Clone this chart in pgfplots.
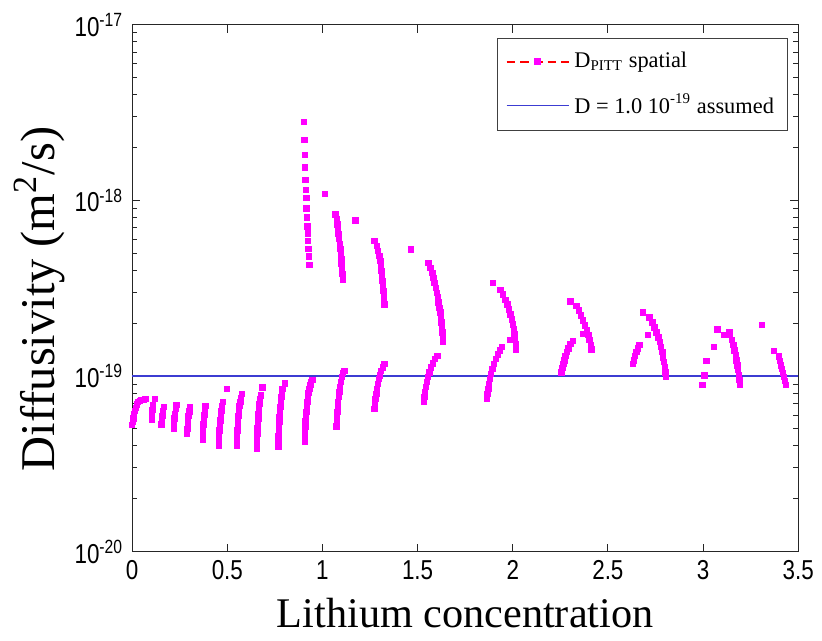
\documentclass[border=0pt]{standalone}
\usepackage{fontspec}
\setmainfont{Liberation Serif}
\newfontfamily\ticksf[FakeStretch=0.82]{Liberation Sans}
\usepackage{pgfplots}
\pgfplotsset{compat=1.18}
\definecolor{lineblue}{RGB}{60,60,210}
\definecolor{mag}{RGB}{255,0,255}
\begin{document}
\begin{tikzpicture}
\begin{axis}[
  at={(0,0)}, anchor=south west,
  scale only axis, width=268pt, height=212pt,
  xmin=0, xmax=3.5, ymode=log, ymin=1e-20, ymax=1e-17,
  xtick={0,0.5,1,1.5,2,2.5,3,3.5},
  xticklabels={0,0.5,1,1.5,2,2.5,3,3.5},
  ytick={1e-20,1e-19,1e-18,1e-17},
  yticklabels={10\textsuperscript{-20},10\textsuperscript{-19},10\textsuperscript{-18},10\textsuperscript{-17}},
  minor ytick={2e-20,3e-20,4e-20,5e-20,6e-20,7e-20,8e-20,9e-20,2e-19,3e-19,4e-19,5e-19,6e-19,7e-19,8e-19,9e-19,2e-18,3e-18,4e-18,5e-18,6e-18,7e-18,8e-18,9e-18},
  tick label style={font=\ticksf\fontsize{11}{12}\selectfont},
  axis line style={line width=0.45pt, black!85},
  tick style={line width=0.4pt, black!85},
  major tick length=3.2pt, minor tick length=2pt,
  tick align=inside,
  xlabel={Lithium concentration},
  ylabel={Diffusivity (m\textsuperscript{2}/s)},
  xlabel style={font=\fontsize{17}{20}\selectfont, at={(axis description cs:0.5,-0.117)}, anchor=center},
  ylabel style={font=\fontsize{19.5}{21}\selectfont, at={(axis description cs:-0.139,0.48)}, anchor=center},
  legend style={at={(0.985,0.975)}, anchor=north east, draw=black!75, line width=0.45pt,
    font=\fontsize{9}{10}\selectfont, inner xsep=3.5pt, inner ysep=3.5pt, row sep=5pt},
  legend cell align=left,
]
\addplot[only marks, mark=square*, mark size=1.1pt, color=mag, mark options={draw=none, fill=mag},
  legend image code/.code={\draw[red, dash pattern=on 3.5pt off 2pt, line width=0.6pt] (0pt,0pt) -- (25pt,0pt);
    \fill[mag] (11.3pt,-1.2pt) rectangle (13.7pt,1.2pt);}]
table {
x y
0 5.25e-20
0.003 5.5e-20
0.006 5.75e-20
0.010 6.05e-20
0.015 6.35e-20
0.020 6.6e-20
0.025 6.9e-20
0.030 7.1e-20
0.040 7.2e-20
0.050 7.3e-20
0.060 7.3e-20
0.070 7.4e-20
0.103 5.67e-20
0.105 6.02e-20
0.107 6.4e-20
0.110 6.8e-20
0.120 7.4e-20
0.155 5.29e-20
0.157 5.61e-20
0.160 5.94e-20
0.163 6.3e-20
0.167 6.68e-20
0.219 5.02e-20
0.221 5.36e-20
0.223 5.72e-20
0.226 6.10e-20
0.230 6.51e-20
0.234 6.86e-20
0.289 4.70e-20
0.290 4.99e-20
0.292 5.29e-20
0.294 5.61e-20
0.297 5.94e-20
0.300 6.30e-20
0.303 6.68e-20
0.371 4.35e-20
0.372 4.65e-20
0.373 4.95e-20
0.375 5.29e-20
0.377 5.64e-20
0.379 6.02e-20
0.382 6.38e-20
0.385 6.77e-20
0.455 4.02e-20
0.456 4.29e-20
0.457 4.58e-20
0.459 4.89e-20
0.461 5.22e-20
0.463 5.57e-20
0.466 5.94e-20
0.469 6.34e-20
0.473 6.77e-20
0.477 7.13e-20
0.498 8.45e-20
0.550 4.02e-20
0.551 4.29e-20
0.552 4.58e-20
0.553 4.89e-20
0.555 5.22e-20
0.557 5.57e-20
0.559 5.94e-20
0.562 6.34e-20
0.565 6.77e-20
0.568 7.13e-20
0.572 7.5e-20
0.576 7.91e-20
0.655 3.87e-20
0.656 4.13e-20
0.657 4.41e-20
0.658 4.70e-20
0.659 5.02e-20
0.661 5.36e-20
0.663 5.72e-20
0.665 6.10e-20
0.667 6.51e-20
0.670 6.95e-20
0.673 7.41e-20
0.676 7.74e-20
0.686 8.6e-20
0.768 3.97e-20
0.769 4.24e-20
0.770 4.52e-20
0.771 4.83e-20
0.772 5.15e-20
0.773 5.50e-20
0.775 5.87e-20
0.777 6.26e-20
0.779 6.68e-20
0.782 7.13e-20
0.785 7.61e-20
0.788 8.02e-20
0.791 8.45e-20
0.803 9.1e-20
0.907 4.24e-20
0.908 4.52e-20
0.909 4.83e-20
0.910 5.15e-20
0.912 5.50e-20
0.914 5.87e-20
0.916 6.26e-20
0.918 6.68e-20
0.921 7.13e-20
0.924 7.61e-20
0.927 8.02e-20
0.931 8.45e-20
0.936 8.90e-20
0.941 9.25e-20
0.947 9.49e-20
1.073 5.15e-20
1.075 5.50e-20
1.077 5.87e-20
1.079 6.26e-20
1.081 6.68e-20
1.083 7.13e-20
1.086 7.61e-20
1.089 8.12e-20
1.093 8.67e-20
1.097 9.25e-20
1.102 9.87e-20
1.109 1.04e-19
1.117 1.07e-19
1.273 6.51e-20
1.276 6.95e-20
1.279 7.41e-20
1.283 7.91e-20
1.287 8.45e-20
1.291 9.00e-20
1.296 9.60e-20
1.302 1.01e-19
1.309 1.07e-19
1.317 1.12e-19
1.325 1.17e-19
1.534 7.13e-20
1.537 7.61e-20
1.540 8.12e-20
1.544 8.67e-20
1.549 9.25e-20
1.555 9.87e-20
1.562 1.05e-19
1.571 1.12e-19
1.580 1.18e-19
1.592 1.25e-19
1.604 1.30e-19
1.865 7.41e-20
1.868 7.91e-20
1.872 8.45e-20
1.876 9.00e-20
1.881 9.60e-20
1.887 1.03e-19
1.894 1.10e-19
1.902 1.17e-19
1.911 1.25e-19
1.922 1.33e-19
1.933 1.40e-19
1.944 1.46e-19
1.987 1.60e-19
2.257 1.05e-19
2.261 1.11e-19
2.266 1.17e-19
2.271 1.23e-19
2.277 1.30e-19
2.284 1.37e-19
2.292 1.44e-19
2.303 1.52e-19
2.318 1.58e-19
2.632 1.17e-19
2.637 1.23e-19
2.643 1.30e-19
2.650 1.37e-19
2.658 1.44e-19
2.666 1.50e-19
2.712 1.71e-19
2.997 8.9e-20
3.009 1.01e-19
3.018 1.22e-19
3.058 1.46e-19
3.077 1.84e-19
0.904 2.79e-18
0.906 2.21e-18
0.907 1.82e-18
0.909 1.54e-18
0.911 1.31e-18
0.913 1.15e-18
0.915 1.03e-18
0.917 9.0e-19
0.919 8.0e-19
0.921 7.1e-19
0.923 6.5e-19
0.925 5.9e-19
0.927 5.3e-19
0.929 4.8e-19
0.931 4.3e-19
1.012 1.09e-18
1.068 8.34e-19
1.075 7.81e-19
1.079 7.32e-19
1.082 6.86e-19
1.085 6.43e-19
1.088 6.02e-19
1.091 5.64e-19
1.094 5.29e-19
1.097 4.95e-19
1.099 4.64e-19
1.101 4.35e-19
1.103 4.08e-19
1.105 3.82e-19
1.108 3.53e-19
1.174 7.7e-19
1.273 5.87e-19
1.286 5.50e-19
1.293 5.15e-19
1.299 4.83e-19
1.304 4.52e-19
1.307 4.24e-19
1.310 3.97e-19
1.313 3.72e-19
1.316 3.49e-19
1.318 3.27e-19
1.320 3.06e-19
1.322 2.87e-19
1.324 2.69e-19
1.325 2.55e-19
1.465 5.27e-19
1.557 4.41e-19
1.568 4.13e-19
1.578 3.87e-19
1.584 3.63e-19
1.590 3.40e-19
1.596 3.18e-19
1.601 2.98e-19
1.606 2.80e-19
1.611 2.62e-19
1.616 2.45e-19
1.620 2.30e-19
1.623 2.15e-19
1.626 2.02e-19
1.629 1.89e-19
1.631 1.77e-19
1.633 1.66e-19
1.634 1.56e-19
1.897 3.40e-19
1.935 3.10e-19
1.950 2.91e-19
1.962 2.72e-19
1.972 2.55e-19
1.981 2.39e-19
1.989 2.24e-19
1.996 2.10e-19
2.001 1.97e-19
2.006 1.84e-19
2.010 1.73e-19
2.013 1.62e-19
2.016 1.52e-19
2.018 1.42e-19
2.304 2.66e-19
2.335 2.50e-19
2.347 2.36e-19
2.359 2.21e-19
2.370 2.07e-19
2.380 1.94e-19
2.389 1.82e-19
2.397 1.71e-19
2.404 1.60e-19
2.410 1.50e-19
2.414 1.42e-19
2.370 1.74e-19
2.684 2.30e-19
2.718 2.15e-19
2.734 2.02e-19
2.746 1.89e-19
2.756 1.77e-19
2.765 1.66e-19
2.773 1.56e-19
2.780 1.46e-19
2.786 1.37e-19
2.791 1.28e-19
2.796 1.20e-19
2.800 1.12e-19
2.803 1.05e-19
2.806 9.9e-20
3.110 1.71e-19
3.140 1.78e-19
3.143 1.71e-19
3.152 1.60e-19
3.160 1.50e-19
3.166 1.40e-19
3.172 1.31e-19
3.177 1.23e-19
3.181 1.15e-19
3.185 1.08e-19
3.189 1.01e-19
3.192 9.49e-20
3.194 8.9e-20
3.311 1.95e-19
3.373 1.39e-19
3.398 1.29e-19
3.404 1.22e-19
3.410 1.15e-19
3.415 1.10e-19
3.420 1.04e-19
3.426 9.87e-20
3.431 9.37e-20
3.436 8.9e-20
};
\addlegendentry{D\textsubscript{PITT} spatial}
\addplot[lineblue, line width=0.5pt,
  legend image code/.code={\draw[lineblue, line width=0.5pt] (0pt,0pt) -- (25pt,0pt);}]
  coordinates {(0,1e-19) (3.5,1e-19)};
\addlegendentry{D = 1.0 10\textsuperscript{-19} assumed}
\end{axis}
\path (-53.2pt,-35.6pt) rectangle (275.6pt,222pt);
\end{tikzpicture}
\end{document}
